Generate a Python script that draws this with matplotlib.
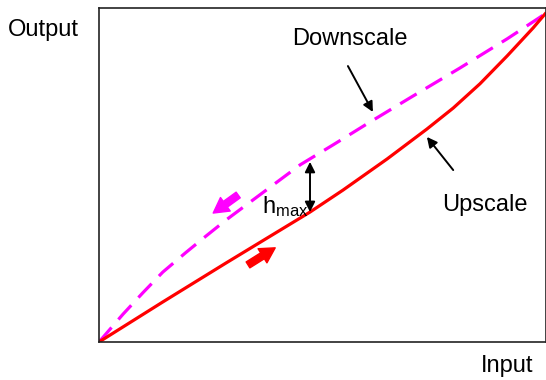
import matplotlib
matplotlib.use("Agg")
import matplotlib.pyplot as plt

plt.rcParams['font.family'] = ['Liberation Sans', 'DejaVu Sans']

# curve points (input / output, normalised 0..1)
up_x = [0.0, 0.143, 0.285, 0.473, 0.547, 0.646, 0.735, 0.794, 0.854, 0.915, 0.973, 1.0]
up_y = [0.0, 0.122, 0.241, 0.396, 0.463, 0.558, 0.649, 0.713, 0.787, 0.872, 0.957, 1.0]

down_x = [0.0, 0.054, 0.099, 0.143, 0.195, 0.240, 0.285, 0.451, 0.525, 0.601, 0.697, 0.809, 0.915, 1.0]
down_y = [0.0, 0.085, 0.151, 0.213, 0.273, 0.323, 0.372, 0.540, 0.601, 0.665, 0.744, 0.835, 0.924, 1.0]

labels = {'down': 'Downscale', 'up': 'Upscale', 'x': 'Input', 'y': 'Output'}

fig = plt.figure(figsize=(5.46, 3.8), dpi=100)
ax = fig.add_axes([0.1813, 0.1, 0.8187, 0.879])

ax.plot(down_x, down_y, color='#ff00ff', lw=2.3, dashes=(6, 3.3), solid_capstyle='butt')
ax.plot(up_x, up_y, color='#ff0000', lw=2.3)

ax.set_xlim(0, 1.002)
ax.set_ylim(0, 1.018)
ax.set_xticks([])
ax.set_yticks([])
for s in ax.spines.values():
    s.set_linewidth(1.2)
    s.set_color('#222222')

arr = dict(arrowstyle='-|>', color='k', lw=1.4, mutation_scale=15, shrinkA=0, shrinkB=0)

# label arrows
ax.text(0.563, 0.924, labels['down'], ha='center', va='center', fontsize=17)
ax.annotate('', xy=(0.614, 0.701), xytext=(0.558, 0.841), arrowprops=arr)
ax.annotate('', xy=(0.735, 0.625), xytext=(0.794, 0.524), arrowprops=arr)
ax.text(0.865, 0.418, labels['up'], ha='center', va='center', fontsize=17)

# h_max double arrow
ax.annotate('', xy=(0.473, 0.549), xytext=(0.473, 0.396),
            arrowprops=dict(arr, arrowstyle='<|-|>'))
ax.text(0.366, 0.393, r'$\mathregular{h_{max}}$', ha='left', va='baseline', fontsize=17)

# direction arrows
fat = 'simple,head_length=0.9,head_width=1.0,tail_width=0.42'
ax.annotate('', xy=(0.256, 0.393), xytext=(0.312, 0.448),
            arrowprops=dict(arrowstyle=fat, color='#ff00ff', mutation_scale=12, shrinkA=0, shrinkB=0))
ax.annotate('', xy=(0.395, 0.287), xytext=(0.334, 0.235),
            arrowprops=dict(arrowstyle=fat, color='#ff0000', mutation_scale=12, shrinkA=0, shrinkB=0))

fig.text(8 / 546, 1 - 30 / 380, labels['y'], ha='left', va='center', fontsize=17)
fig.text(507 / 546, 1 - 366 / 380, labels['x'], ha='center', va='center', fontsize=17)

fig.savefig('out.png', dpi=100)
